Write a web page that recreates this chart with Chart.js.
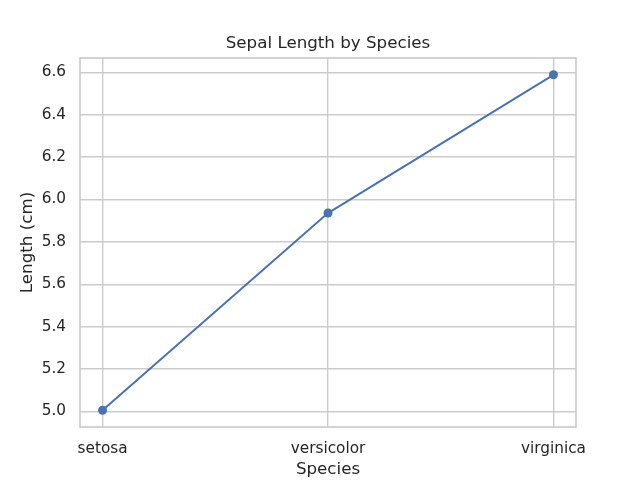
<!DOCTYPE html>
<html>
<head>
<meta charset="utf-8">
<script src="https://cdn.jsdelivr.net/npm/chart.js@4"></script>
<style>
html,body{margin:0;padding:0;background:#fff;}
#wrap{width:640px;height:480px;}
</style>
</head>
<body>
<div id="wrap"><canvas id="c" width="640" height="480"></canvas></div>
<script>
const categories = ["setosa", "versicolor", "virginica"];
const sepalLength = [5.006, 5.936, 6.588];
const yTicks = [5.0, 5.2, 5.4, 5.6, 5.8, 6.0, 6.2, 6.4, 6.6];
const titleText = "Sepal Length by Species";
const xLabel = "Species";
const yLabel = "Length (cm)";

const FONT = "'DejaVu Sans', sans-serif";
const TEXT = "#262626";
const GRID = "#cccccc";

const dataMin = Math.min(...sepalLength), dataMax = Math.max(...sepalLength);
const margin = (dataMax - dataMin) * 0.05;

const framePlugin = {
  id: 'frame',
  beforeDatasetsDraw(chart) {
    const {ctx, chartArea: a} = chart;
    ctx.save();
    ctx.strokeStyle = GRID;
    ctx.lineWidth = 1.7;
    ctx.strokeRect(a.left, a.top, a.right - a.left, a.bottom - a.top);
    ctx.restore();
  },
  afterDraw(chart) {
    const {ctx, chartArea: a} = chart;
    ctx.save();
    ctx.fillStyle = TEXT;
    ctx.font = "16.7px " + FONT;
    ctx.textAlign = "center";
    ctx.textBaseline = "middle";
    ctx.fillText(titleText, (a.left + a.right) / 2, 44);
    ctx.restore();
  }
};

new Chart(document.getElementById('c'), {
  type: 'line',
  data: {
    datasets: [{
      data: categories.map((c, i) => ({x: i, y: sepalLength[i]})),
      borderColor: '#4c72b0',
      backgroundColor: '#4c72b0',
      borderWidth: 2,
      pointRadius: 4.5,
      pointBorderWidth: 0,
      pointHoverRadius: 4.5,
      tension: 0,
      fill: false
    }]
  },
  options: {
    responsive: false,
    animation: false,
    events: [],
    layout: {padding: {top: 58, right: 64, bottom: 0, left: 0}},
    plugins: {legend: {display: false}, title: {display: false}, tooltip: {enabled: false}},
    scales: {
      x: {
        type: 'linear',
        min: -0.1,
        max: categories.length - 1 + 0.1,
        afterFit(s) { s.height = 53; },
        afterBuildTicks(s) { s.ticks = categories.map((c, i) => ({value: i})); },
        ticks: {
          callback: (v) => categories[v],
          color: TEXT,
          font: {family: FONT, size: 15.3},
          padding: 13,
          maxRotation: 0,
          autoSkip: false
        },
        grid: {color: GRID, lineWidth: 1.4, drawTicks: false},
        border: {display: false},
        title: {display: true, text: xLabel, color: TEXT, font: {family: FONT, size: 16.7}, padding: {top: 0, bottom: 0}}
      },
      y: {
        type: 'linear',
        min: dataMin - margin,
        max: dataMax + margin,
        afterFit(s) { s.width = 80; },
        afterBuildTicks(s) { s.ticks = yTicks.map(v => ({value: v})); },
        ticks: {
          callback: (v) => v.toFixed(1),
          color: TEXT,
          font: {family: FONT, size: 15.3},
          padding: 14
        },
        grid: {color: GRID, lineWidth: 1.4, drawTicks: false},
        border: {display: false},
        title: {display: true, text: yLabel, color: TEXT, font: {family: FONT, size: 16.7}, padding: {top: 18, bottom: 0}}
      }
    }
  },
  plugins: [framePlugin]
});
</script>
</body>
</html>
